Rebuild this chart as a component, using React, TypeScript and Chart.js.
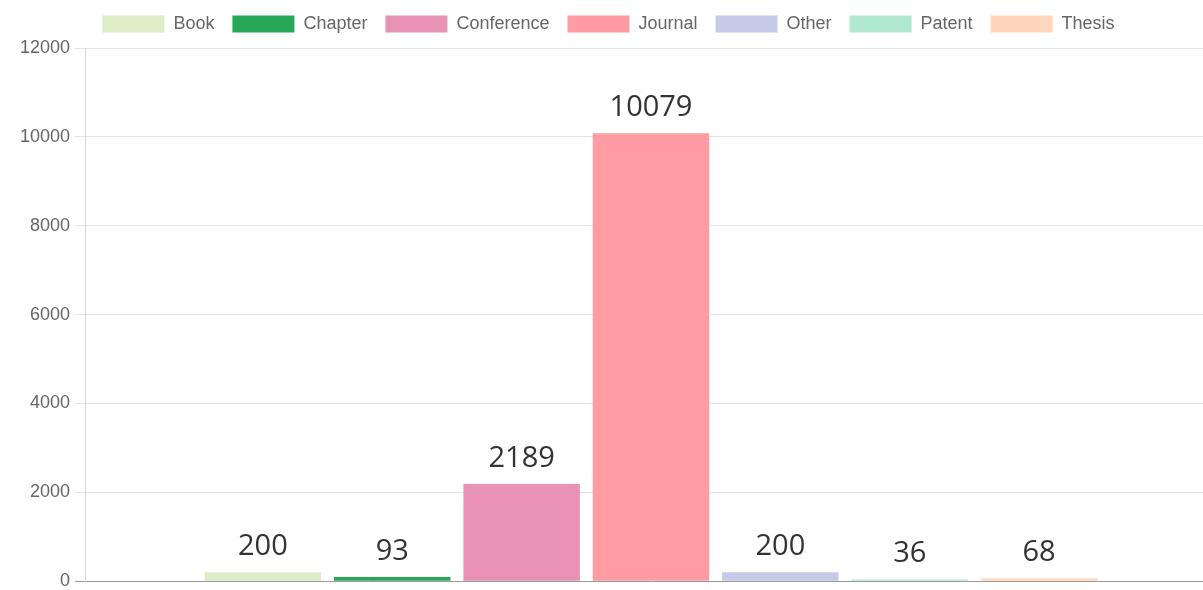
import React, { useEffect, useRef } from "react";
import { Chart, registerables } from "chart.js";

Chart.register(...registerables);

const categories = [""];
const seriesNames = ["Book", "Chapter", "Conference", "Journal", "Other", "Patent", "Thesis"];
const seriesValues = [200, 93, 2189, 10079, 200, 36, 68];
const seriesColors = [
  "rgb(221,237,199)",
  "rgb(38,168,88)",
  "rgb(232,146,182)",
  "rgb(255,155,162)",
  "rgb(196,202,232)",
  "rgb(176,233,208)",
  "rgb(255,215,188)",
];
const yTicks = [0, 2000, 4000, 6000, 8000, 10000, 12000];

const valueLabels = {
  id: "valueLabels",
  afterDatasetsDraw(chart: any) {
    const ctx = chart.ctx;
    ctx.save();
    ctx.font = "400 29px 'Open Sans'";
    ctx.fillStyle = "#333";
    ctx.textAlign = "center";
    ctx.textBaseline = "bottom";
    chart.data.datasets.forEach((ds: any, i: number) => {
      const meta = chart.getDatasetMeta(i);
      meta.data.forEach((bar: any, j: number) => {
        ctx.fillText(String(ds.data[j]), bar.x, bar.y - 11);
      });
    });
    ctx.restore();
  },
};

const legendSpacing = {
  id: "legendSpacing",
  beforeInit(chart: any) {
    const orig = chart.legend.fit;
    chart.legend.fit = function () {
      orig.bind(chart.legend)();
      this.height += 5;
    };
  },
};

export default function App() {
  const ref = useRef<HTMLCanvasElement>(null);
  useEffect(() => {
    const chart = new Chart(ref.current!, {
      type: "bar",
      data: {
        labels: categories,
        datasets: seriesNames.map((name, i) => ({
          label: name,
          data: [seriesValues[i]],
          backgroundColor: seriesColors[i],
          borderWidth: 0,
        })),
      },
      options: {
        animation: false,
        responsive: false,
        layout: { padding: { top: 1, bottom: 9, right: 0, left: 0 } },
        plugins: {
          legend: {
            position: "top",
            labels: {
              boxWidth: 62,
              boxHeight: 17,
              padding: 18,
              color: "#666",
              font: { family: "'Liberation Sans', Arial", size: 18 },
            },
          },
          tooltip: { enabled: false },
        },
        scales: {
          x: { display: false },
          y: {
            min: 0,
            max: 12000,
            afterFit: (axis: any) => {
              axis.width = 85;
            },
            afterBuildTicks: (axis: any) => {
              axis.ticks = yTicks.map((v) => ({ value: v }));
            },
            ticks: {
              color: "#666",
              font: { family: "'Liberation Sans', Arial", size: 18 },
              padding: 5,
              callback: (v: any) => String(v),
            },
            grid: {
              color: (c: any) => (c.tick && c.tick.value === 0 ? "#999" : "rgba(0,0,0,0.1)"),
              tickLength: 10,
            },
            border: { color: "rgba(0,0,0,0.15)" },
          },
        },
      },
      plugins: [valueLabels, legendSpacing],
    });
    return () => chart.destroy();
  }, []);
  return (
    <div style={{ position: "absolute", left: 0, top: 0, width: 1203, height: 590, overflow: "hidden", background: "#fff" }}>
      <canvas ref={ref} width={1217} height={601} style={{ display: "block", marginTop: -4 }} />
    </div>
  );
}
